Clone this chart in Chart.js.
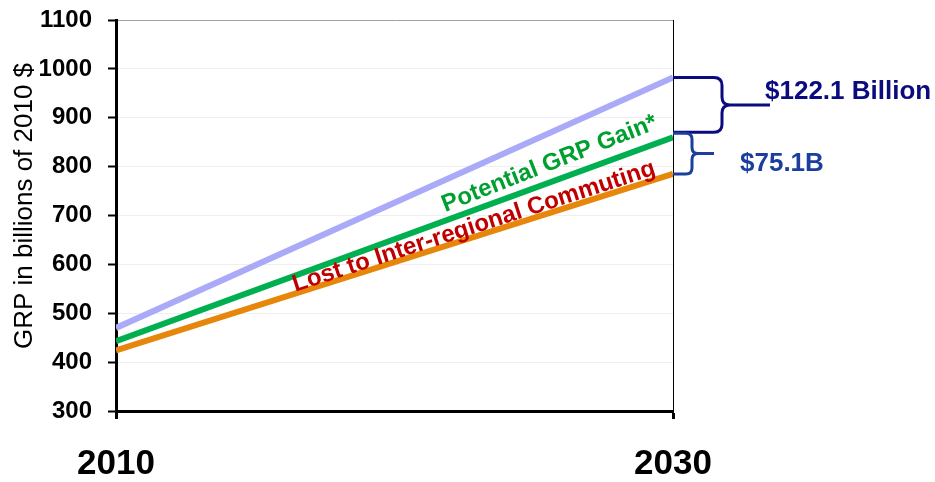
<!DOCTYPE html>
<html>
<head>
<meta charset="utf-8">
<script src="https://cdn.jsdelivr.net/npm/chart.js@4"></script>
<style>
  html, body { margin: 0; padding: 0; background: #fff; }
  #wrap { width: 935px; height: 482px; }
</style>
</head>
<body>
<div id="wrap"><canvas id="grp"></canvas></div>
<script>
'use strict';

// data (billions of 2010 $)
const years = [2010, 2030];
const projectedGrp = [470, 982.2];   // lavender, top
const potentialGrp = [443, 860.1];   // green
const lostGrp = [424, 785.0];        // orange
const yTicks = [300, 400, 500, 600, 700, 800, 900, 1000, 1100];
const yTitle = 'GRP in billions of 2010 $';
const gapTop = '$122.1 Billion';
const gapBottom = '$75.1B';

const FONT = "'Liberation Sans', Arial, sans-serif";

const pts = arr => years.map((x, i) => ({ x, y: arr[i] }));

// curly brace opening to the left, drawn from the plot edge
function brace(ctx, x0, top, bottom, armX, r, tipX, color) {
  const mid = (top + bottom) / 2;
  ctx.beginPath();
  ctx.moveTo(x0, top);
  ctx.lineTo(armX - r, top);
  ctx.quadraticCurveTo(armX, top, armX, top + r);
  ctx.lineTo(armX, mid - r);
  ctx.quadraticCurveTo(armX, mid, armX + r, mid);
  ctx.lineTo(tipX, mid);
  ctx.moveTo(armX + r, mid);
  ctx.quadraticCurveTo(armX, mid, armX, mid + r);
  ctx.lineTo(armX, bottom - r);
  ctx.quadraticCurveTo(armX, bottom, armX - r, bottom);
  ctx.lineTo(x0, bottom);
  ctx.strokeStyle = color;
  ctx.lineWidth = 3;
  ctx.lineJoin = 'round';
  ctx.stroke();
}

function rotText(ctx, text, x, y, deg, color, font) {
  ctx.save();
  ctx.translate(x, y);
  ctx.rotate(deg * Math.PI / 180);
  ctx.font = font;
  ctx.fillStyle = color;
  ctx.textAlign = 'center';
  ctx.textBaseline = 'alphabetic';
  ctx.fillText(text, 0, 0);
  ctx.restore();
}

const notes = {
  id: 'notes',
  afterDraw(chart) {
    const { ctx, chartArea, scales } = chart;
    const y = scales.y;
    const right = chartArea.right;
    const yProj = y.getPixelForValue(projectedGrp[1]);
    const yPot = y.getPixelForValue(potentialGrp[1]);
    const yLost = y.getPixelForValue(lostGrp[1]);
    ctx.save();
    brace(ctx, right, yProj, yPot - 5, right + 49, 8, right + 97, '#0b0b80');
    brace(ctx, right, yPot - 4, yLost, right + 19, 6, right + 41, '#1c3f9e');

    ctx.font = 'bold 26px ' + FONT;
    ctx.textBaseline = 'middle';
    ctx.textAlign = 'left';
    ctx.fillStyle = '#0b0b80';
    ctx.fillText(gapTop, 765, 92);
    ctx.fillStyle = '#1c3f9e';
    ctx.fillText(gapBottom, 740, 164);

    const slant = 'bold 24px ' + FONT;
    rotText(ctx, 'Potential GRP Gain*', 552, 170, -21.5, '#00a030', slant);
    rotText(ctx, 'Lost to Inter-regional Commuting', 476, 233, -18, '#c00000', slant);
    // axis title sits a little above the plot's middle in the original
    rotText(ctx, yTitle, 32, 206, -90, '#000', '26px ' + FONT);
    ctx.restore();
  }
};

new Chart(document.getElementById('grp'), {
  type: 'line',
  data: {
    datasets: [
      { label: 'Projected', data: pts(projectedGrp), borderColor: '#aaaaf8', borderWidth: 6 },
      { label: 'Potential', data: pts(potentialGrp), borderColor: '#00b050', borderWidth: 6 },
      { label: 'Lost', data: pts(lostGrp), borderColor: '#e6870c', borderWidth: 6 }
    ]
  },
  options: {
    responsive: true, maintainAspectRatio: false, animation: false,
    layout: { padding: { left: 0, top: 20, right: 262, bottom: 0 } },
    elements: { point: { radius: 0 }, line: { tension: 0, borderCapStyle: 'butt' } },
    plugins: { legend: { display: false }, tooltip: { enabled: false } },
    scales: {
      x: {
        type: 'linear', min: 2010, max: 2030,
        afterBuildTicks: s => { s.ticks = years.map(v => ({ value: v })); },
        afterFit: s => { s.height = 71; },
        border: { color: '#000', width: 3 },
        grid: {
          color: c => (c.tick && c.tick.value === 2030 ? '#000' : 'rgba(0,0,0,0)'),
          lineWidth: 1, tickColor: '#000', tickWidth: 3, tickLength: 8
        },
        ticks: {
          color: '#000', padding: 24, maxRotation: 0,
          font: { family: FONT, size: 35, weight: 'bold' },
          callback: v => String(v)
        }
      },
      y: {
        min: 300, max: 1100,
        afterBuildTicks: s => { s.ticks = yTicks.map(v => ({ value: v })); },
        afterFit: s => { s.width = 116; s.paddingTop = 0; s.paddingBottom = 0; },
        border: { color: '#000', width: 3 },
        grid: {
          color: c => (c.tick && c.tick.value === 1100 ? '#a0a0a0' : '#efefef'),
          lineWidth: 1, tickColor: '#000', tickWidth: 2, tickLength: 8
        },
        ticks: {
          color: '#000', padding: 16,
          font: { family: FONT, size: 24, weight: 'bold' },
          callback: v => String(v)
        }
      }
    }
  },
  plugins: [notes]
});
</script>
</body>
</html>
